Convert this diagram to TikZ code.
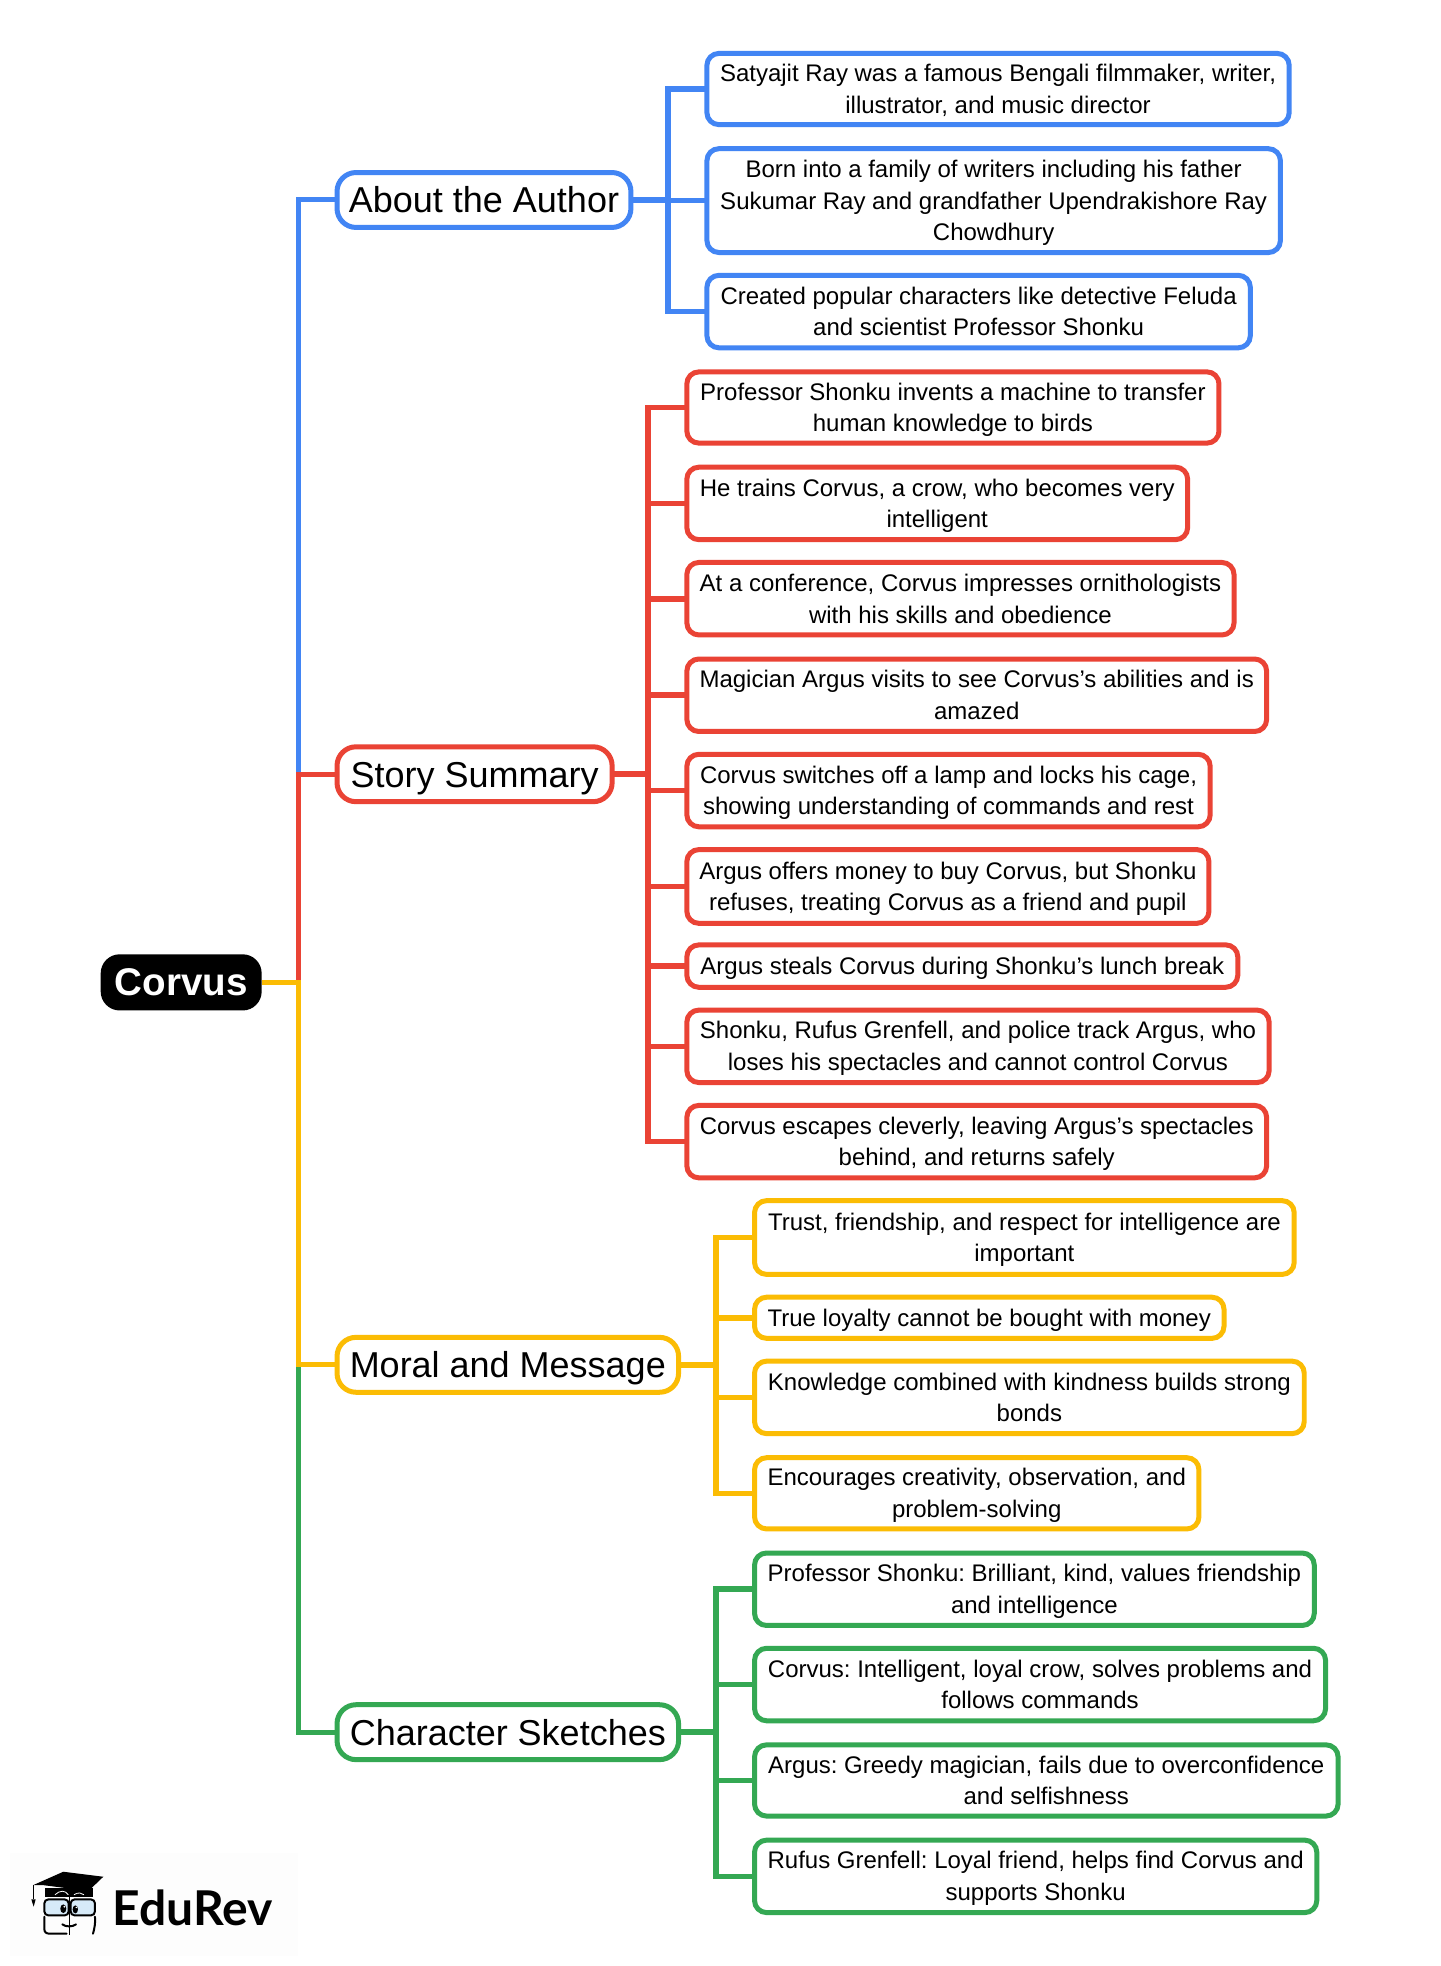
\documentclass[tikz,border=0pt]{standalone}
\usepackage{fontspec}
\setmainfont{Liberation Sans}
\newfontfamily\logofont{Lato}
\frenchspacing
\definecolor{cblue}{HTML}{4285F4}
\definecolor{cred}{HTML}{EA4335}
\definecolor{cyel}{HTML}{FBBC04}
\definecolor{cgrn}{HTML}{34A853}
\definecolor{lens}{HTML}{D6EAF8}
\tikzset{
  leafbox/.style={draw=#1,line width=5pt,fill=white,rounded corners=12pt,align=center,inner sep=0pt,outer sep=0pt,text=black,font=\fontsize{24}{31.7}\selectfont},
  catbox/.style={draw=#1,line width=5pt,fill=white,rounded corners=19pt,align=center,inner sep=0pt,outer sep=0pt,text=black,text height=26pt,text depth=0pt,font=\fontsize{36}{40}\selectfont},
  rootbox/.style={fill=black,rounded corners=19pt,align=center,inner sep=0pt,outer sep=0pt,text=white,text height=29pt,text depth=2pt,font=\fontsize{38.6}{44}\selectfont\bfseries},
  link/.style={draw=#1,line width=5pt,miter limit=10},
  sublink/.style={draw=#1,line width=5.6pt,miter limit=10},
  logoline/.style={draw=black,line width=2pt,line cap=round},
}
\newcommand{\bx}[7]{%
  \pgfmathsetmacro\bw{(#5-#3)*1.2541-2}%
  \pgfmathsetmacro\bh{(#6-#4)*1.2541-1.5}%
  \node[#2,minimum width=\bw pt,minimum height=\bh pt] (#1) at ({(#3+#5)/2},{(#4+#6)/2}) {#7};}
\newcommand{\lf}[7]{\bx{#1}{#2}{#3}{#4}{#5}{#6}{\rule{0pt}{26.4pt}#7\strut}}
\begin{document}
\begin{tikzpicture}[x=1.2541pt,y=-1.2541pt]
\useasboundingbox (0,0) rectangle (1149,1568);
\fill[white] (0,0) rectangle (1149,1568);
\fill[black!0.7] (8,1478) rectangle (238,1560);
% nodes
\bx{root}{rootbox}{79.5}{760.5}{209.5}{806.5}{Corvus}
\bx{about}{catbox=cblue}{268}{137}{504}{182}{About the Author}
\bx{story}{catbox=cred}{268}{595}{489}{640}{Story Summary}
\bx{moral}{catbox=cyel}{268}{1066}{542}{1111}{Moral and Message}
\bx{chars}{catbox=cgrn}{268}{1359}{542}{1404}{Character Sketches}
\lf{a1}{leafbox=cblue}{563}{42}{1029}{100}{Satyajit Ray was a famous Bengali filmmaker, writer,\\illustrator, and music director}
\lf{a2}{leafbox=cblue}{563}{118}{1022}{202}{Born into a family of writers including his father\\Sukumar Ray and grandfather Upendrakishore Ray\\Chowdhury}
\lf{a3}{leafbox=cblue}{563}{219}{998}{278}{Created popular characters like detective Feluda\\and scientist Professor Shonku}
\lf{s1}{leafbox=cred}{547}{296}{973}{354}{Professor Shonku invents a machine to transfer\\human knowledge to birds}
\lf{s2}{leafbox=cred}{547}{372}{948}{431}{He trains Corvus, a crow, who becomes very\\intelligent}
\lf{s3}{leafbox=cred}{547}{448}{985}{507}{At a conference, Corvus impresses ornithologists\\with his skills and obedience}
\lf{s4}{leafbox=cred}{547}{525}{1011}{584}{Magician Argus visits to see Corvus’s abilities and is\\amazed}
\lf{s5}{leafbox=cred}{547}{601}{966}{660}{Corvus switches off a lamp and locks his cage,\\showing understanding of commands and rest}
\lf{s6}{leafbox=cred}{547}{677}{965}{737}{Argus offers money to buy Corvus, but Shonku\\refuses, treating Corvus as a friend and pupil}
\lf{s7}{leafbox=cred}{547}{753}{988}{788}{Argus steals Corvus during Shonku’s lunch break}
\lf{s8}{leafbox=cred}{547}{805}{1013}{864}{Shonku, Rufus Grenfell, and police track Argus, who\\loses his spectacles and cannot control Corvus}
\lf{s9}{leafbox=cred}{547}{881}{1011}{940}{Corvus escapes cleverly, leaving Argus’s spectacles\\behind, and returns safely}
\lf{m1}{leafbox=cyel}{601}{957}{1033}{1017}{Trust, friendship, and respect for intelligence are\\important}
\lf{m2}{leafbox=cyel}{601}{1034}{977}{1068}{True loyalty cannot be bought with money}
\lf{m3}{leafbox=cyel}{601}{1085}{1041}{1144}{Knowledge combined with kindness builds strong\\bonds}
\lf{m4}{leafbox=cyel}{601}{1162}{957}{1220}{Encourages creativity, observation, and\\problem-solving}
\lf{c1}{leafbox=cgrn}{601}{1238}{1049}{1297}{Professor Shonku: Brilliant, kind, values friendship\\and intelligence}
\lf{c2}{leafbox=cgrn}{601}{1314}{1058}{1373}{Corvus: Intelligent, loyal crow, solves problems and\\follows commands}
\lf{c3}{leafbox=cgrn}{601}{1391}{1068}{1449}{Argus: Greedy magician, fails due to overconfidence\\and selfishness}
\lf{c4}{leafbox=cgrn}{601}{1467}{1051}{1526}{Rufus Grenfell: Loyal friend, helps find Corvus and\\supports Shonku}
% spines
\coordinate (mx) at (238,0);
\coordinate (bx) at (533,0);
\coordinate (rx) at (517,0);
\coordinate (yx) at (571,0);
\coordinate (gx) at (571,0);
% connectors from the root
\draw[link=cblue] (root.east) -- (root.east -| mx) -- (about.west -| mx) -- (about.west);
\draw[link=cgrn] (root.east) -- (root.east -| mx) -- (chars.west -| mx) -- (chars.west);
\draw[link=cred] (root.east) -- (root.east -| mx) -- (story.west -| mx) -- (story.west);
\draw[link=cyel] (root.east) -- (root.east -| mx) -- (moral.west -| mx) -- (moral.west);
% connectors to the leaves
\foreach \k in {a1,a2,a3}{\draw[sublink=cblue] (about.east) -- (about.east -| bx) -- (\k.west -| bx) -- (\k.west);}
\foreach \k in {s1,s2,s3,s4,s5,s6,s7,s8,s9}{\draw[sublink=cred] (story.east) -- (story.east -| rx) -- (\k.west -| rx) -- (\k.west);}
\foreach \k in {m1,m2,m3,m4}{\draw[sublink=cyel] (moral.east) -- (moral.east -| yx) -- (\k.west -| yx) -- (\k.west);}
\foreach \k in {c1,c2,c3,c4}{\draw[sublink=cgrn] (chars.east) -- (chars.east -| gx) -- (\k.west -| gx) -- (\k.west);}
% logo
\node[anchor=base west,inner sep=0pt,font=\fontsize{48}{50}\selectfont\logofont\bfseries] (logotext) at (89.5,1535.5) {EduRev};
\begin{scope}[x=0.3333pt,y=-0.3333pt,shift={(0,5460)}]
  \fill[black] (135,205) -- (135,232) -- (280,232) -- (280,205) -- cycle;
  \fill[black] (100,197) -- (190,157) -- (310,172) -- (258,222) -- (190,205) -- (128,197) -- cycle;
  \draw[white,line width=0.8pt] (165,226) .. controls (180,212) and (195,212) .. (205,226);
  \draw[white,line width=0.8pt] (222,226) .. controls (235,218) and (245,220) .. (252,226);
  \draw[black,line width=0.8pt] (100,197) -- (100,240);
  \fill[black] (94,240) -- (107,240) -- (101,262) -- cycle;
  \draw[logoline,fill=lens,rounded corners=4pt] (133,240) rectangle (206,288);
  \draw[logoline,fill=lens,rounded corners=4pt] (212,240) rectangle (285,288);
  \fill[black] (190,268) ellipse (9 and 13);
  \fill[black] (226,270) ellipse (8 and 12);
  \fill[white] (193,262) circle (3);
  \fill[white] (229,264) circle (2.5);
  \draw[logoline] (133,292) -- (133,328) .. controls (133,338) and (138,343) .. (150,343) -- (200,343);
  \draw[logoline] (285,292) .. controls (287,310) and (283,330) .. (279,343);
  \draw[black,line width=1.4pt] (208,232) -- (208,347);
  \draw[logoline] (187,315) .. controls (197,323) and (218,323) .. (228,315);
\end{scope}
\end{tikzpicture}
\end{document}
